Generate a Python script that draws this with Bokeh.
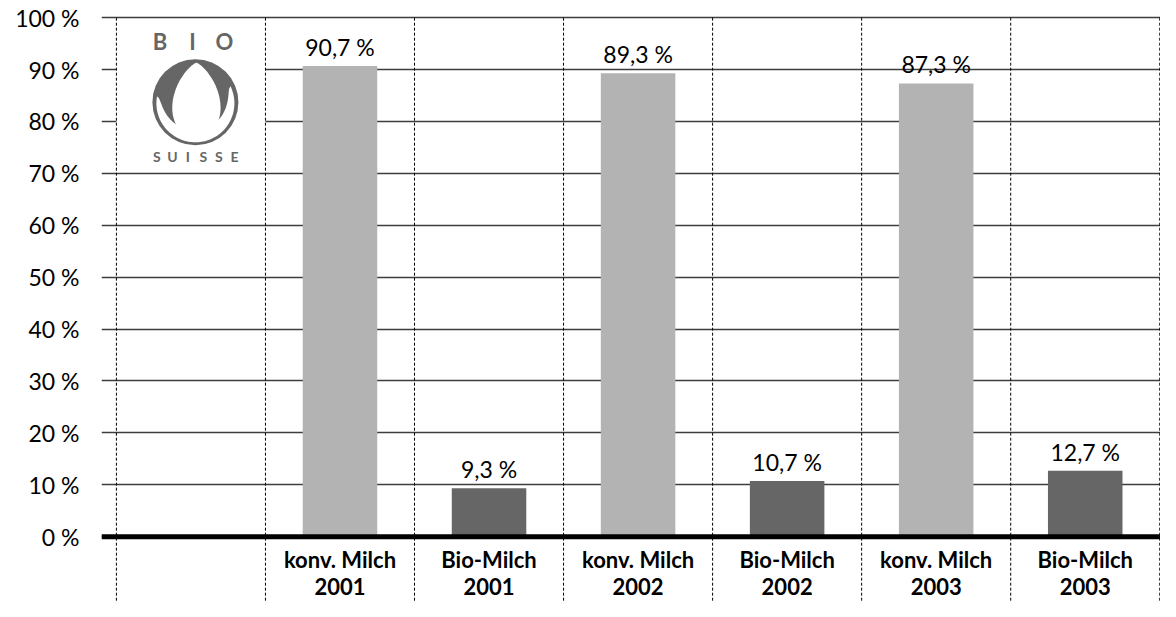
import numpy as np
from bokeh.plotting import figure
from bokeh.models import FixedTicker, Span, Range1d
from bokeh.core.properties import value
from bokeh.embed import file_html
from bokeh.resources import INLINE

# ---------------- data ----------------
products = ["konv. Milch", "Bio-Milch", "konv. Milch", "Bio-Milch", "konv. Milch", "Bio-Milch"]
years = ["2001", "2001", "2002", "2002", "2003", "2003"]
shares = [90.7, 9.3, 89.3, 10.7, 87.3, 12.7]
bar_colors = ["#b3b3b3", "#666666", "#b3b3b3", "#666666", "#b3b3b3", "#666666"]
y_ticks = list(range(0, 101, 10))
y_tick_labels = [f"{t} %" for t in y_ticks]
value_labels = [f"{v:.1f} %".replace(".", ",") for v in shares]
logo_top_letters = ["B", "I", "O"]
logo_bottom_letters = ["S", "U", "I", "S", "S", "E"]

# ---------------- layout ----------------
W, H = 1160, 601
BL, BT = 101, 12
X0, X1 = -0.1, 7.005
Y0, Y1 = -12.5, 101
ppx = (W - BL) / (X1 - X0)
ppy = (H - BT) / (Y1 - Y0)
FONT = "Lato"
GREY = "#666666"
BASE = 0.4  # baseline correction (fraction of font size)

p = figure(width=W, height=H, x_range=Range1d(X0, X1), y_range=Range1d(Y0, Y1),
           output_backend="svg", toolbar_location=None, x_axis_location=None,
           min_border_left=BL, min_border_right=0, min_border_top=BT, min_border_bottom=0,
           outline_line_color=None, background_fill_color="white", border_fill_color="white")

p.xgrid.visible = False
p.ygrid.ticker = FixedTicker(ticks=y_ticks)
p.ygrid.grid_line_color = "#3d3d3d"
p.ygrid.grid_line_width = 1.5

yax = p.yaxis[0]
yax.ticker = FixedTicker(ticks=y_ticks)
yax.major_label_overrides = {t: l for t, l in zip(y_ticks, y_tick_labels)}
yax.axis_line_color = None
yax.major_tick_line_color = None
yax.minor_tick_line_color = None
yax.major_tick_out = 0
yax.major_tick_in = 0
yax.major_label_standoff = 22
yax.major_label_text_font = FONT
yax.major_label_text_font_size = "23px"
yax.major_label_text_color = "#000000"

n = len(shares)
logo_col = 0
bar_x = [logo_col + 1 + i + 0.5 for i in range(n)]
bounds = list(range(n + 2))

# white box behind the logo (hides grid lines)
p.quad(left=[logo_col], right=[logo_col + 1], bottom=[y_ticks[7] + 1], top=[y_ticks[10] - 1],
       fill_color="white", line_color=None)

# bars
p.vbar(x=bar_x, top=shares, bottom=0, width=0.5, fill_color=bar_colors, line_color=None)

# dashed column separators
p.segment(x0=bounds, y0=[y_ticks[-1]] * len(bounds), x1=bounds, y1=[Y0] * len(bounds),
          line_color="black", line_width=1, line_dash="3 2")

# value labels
p.text(x=bar_x, y=shares, text=value_labels, text_align="center", text_baseline="alphabetic",
       y_offset=-10 - BASE * 23, text_font=value(FONT), text_font_size="23px", text_color="black")

# category labels
p.text(x=bar_x, y=[0] * n, text=products, text_align="center", text_baseline="alphabetic",
       y_offset=32 - BASE * 22, text_font=value(FONT), text_font_style="bold",
       text_font_size="22px", text_color="black")
p.text(x=bar_x, y=[0] * n, text=years, text_align="center", text_baseline="alphabetic",
       y_offset=59 - BASE * 22, text_font=value(FONT), text_font_style="bold",
       text_font_size="22px", text_color="black")

# ---------------- logo (decoration) ----------------
lx, ly = logo_col + 0.53, 83.7


def to_data(dx, dy):
    dx = np.asarray(dx, dtype=float)
    dy = np.asarray(dy, dtype=float)
    return (lx + dx / ppx).tolist(), (ly - dy / ppy).tolist()


p.scatter(x=[lx], y=[ly], marker="circle", size=86, fill_color=GREY, line_color=None)

# white "cup"
thL, thR = np.radians(190.3), np.radians(-25.8)
th = np.linspace(thL, thR, 90)
s = (th - thL) / (thR - thL)
Ro = 39.0
wcup = 12.0 * np.sin(np.pi * s) ** 0.5
ox, oy = Ro * np.cos(th), 1 + Ro * np.sin(th)
ix, iy = (Ro - wcup) * np.cos(th), 1 + (Ro - wcup) * np.sin(th)
cx_, cy_ = to_data(np.concatenate([ox, ix[::-1]]), np.concatenate([oy, iy[::-1]]))
p.patch(x=cx_, y=cy_, fill_color="white", line_color=None)

# white "bud"
t = np.linspace(0, 2 * np.pi, 120)
ex = 1 + 28 * np.sin(t) * np.sqrt(np.abs(np.sin(t / 2)))
ey = -39.5 + 75 * (1 - np.cos(t)) / 2
bx_, by_ = to_data(ex, ey)
p.patch(x=bx_, y=by_, fill_color="white", line_color=None)

p.text(x=[lx] * 3, y=[ly] * 3, text=logo_top_letters, x_offset=[-35.5, -3, 29],
       y_offset=-52 - BASE * 22,
       text_align="center", text_baseline="alphabetic", text_font=value(FONT),
       text_font_style="bold", text_font_size="22px", text_color=GREY)
p.text(x=[lx] * 6, y=[ly] * 6, text=logo_bottom_letters,
       x_offset=[-38.5, -23, -7.5, 8, 23.5, 39], y_offset=60 - BASE * 14,
       text_align="center", text_baseline="alphabetic", text_font=value(FONT),
       text_font_style="bold", text_font_size="14px", text_color=GREY)

# thick zero line
p.add_layout(Span(location=0, dimension="width", line_color="black", line_width=5))

open("out.html", "w").write(file_html(p, INLINE))
